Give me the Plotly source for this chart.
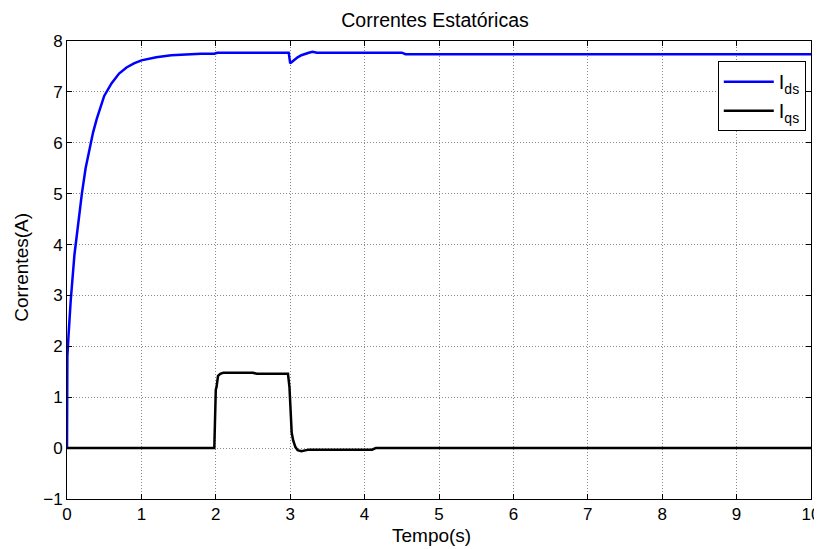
import plotly.graph_objects as go

# Data
t_ids = [0, 0.005, 0.02, 0.05, 0.1, 0.15, 0.2, 0.25, 0.3, 0.35, 0.4, 0.5, 0.6, 0.7, 0.8, 0.9,
         1.0, 1.2, 1.4, 1.6, 1.8, 1.98, 2.02, 2.98, 3.0, 3.05, 3.1, 3.15, 3.2, 3.25, 3.3, 3.36,
         4.5, 4.55, 10]
ids = [0, 1.8, 2.2, 2.9, 3.8, 4.45, 5.0, 5.5, 5.87, 6.2, 6.47, 6.92, 7.17, 7.36, 7.48, 7.56,
       7.62, 7.68, 7.72, 7.74, 7.75, 7.75, 7.77, 7.77, 7.56, 7.62, 7.68, 7.72, 7.75, 7.77, 7.79, 7.77,
       7.77, 7.74, 7.74]

t_iqs = [0, 1.98, 2.0, 2.01, 2.03, 2.06, 2.1, 2.5, 2.55, 2.97, 2.99, 3.0, 3.02, 3.04, 3.07,
         3.1, 3.15, 3.25, 4.1, 4.15, 10]
iqs = [0, 0, 1.15, 1.2, 1.42, 1.46, 1.48, 1.48, 1.46, 1.46, 1.2, 0.75, 0.3, 0.15, 0.02,
       -0.04, -0.06, -0.03, -0.03, 0, 0]

x_ticks = list(range(0, 11))
y_ticks = list(range(-1, 9))

font = "Liberation Sans, Arial, sans-serif"

# page body adds an 8px offset; figure sized to compensate
W, H = 814, 541

fig = go.Figure()
fig.add_trace(go.Scatter(x=t_ids, y=ids, mode="lines", name="I<sub>ds</sub>",
                         line=dict(color="#0000FF", width=2.5)))
fig.add_trace(go.Scatter(x=t_iqs, y=iqs, mode="lines", name="I<sub>qs</sub>",
                         line=dict(color="#000000", width=2.5)))

axis_common = dict(
    showline=True, linecolor="black", linewidth=1, mirror="ticks",
    ticks="inside", ticklen=5, tickcolor="black",
    showgrid=True, gridcolor="#8a8a8a", griddash="1px,2px", gridwidth=1,
    zeroline=False, tickfont=dict(size=17, color="black", family=font),
    automargin=False,
)

fig.update_layout(
    width=W, height=H,
    margin=dict(l=59, r=11, t=33, b=50),
    paper_bgcolor="white", plot_bgcolor="white",
    font=dict(family=font, color="black"),
    title=dict(text="Correntes Estatóricas", x=(435 - 8) / W, xanchor="center",
               y=1 - 12 / H, yref="container", yanchor="middle",
               font=dict(size=19.5, color="black", family=font)),
    xaxis=dict(range=[0, 10], tickvals=x_ticks, **axis_common),
    yaxis=dict(range=[-1, 8], tickvals=y_ticks, **axis_common),
    legend=dict(x=0.993, y=0.956, xanchor="right", yanchor="top",
                bordercolor="black", borderwidth=1, bgcolor="white",
                font=dict(size=20, color="black", family=font),
                tracegroupgap=6, itemwidth=50),
    showlegend=True,
    annotations=[
        dict(text="Tempo(s)", xref="paper", yref="paper", x=0.49, y=0,
             xanchor="center", yanchor="middle", yshift=-36, showarrow=False,
             font=dict(size=19, color="black", family=font)),
        dict(text="Correntes(A)", xref="paper", yref="paper", x=0, y=0.505,
             xanchor="center", yanchor="middle", xshift=-45, textangle=-90,
             showarrow=False, font=dict(size=19, color="black", family=font)),
    ],
)

fig.write_html("out.html")
